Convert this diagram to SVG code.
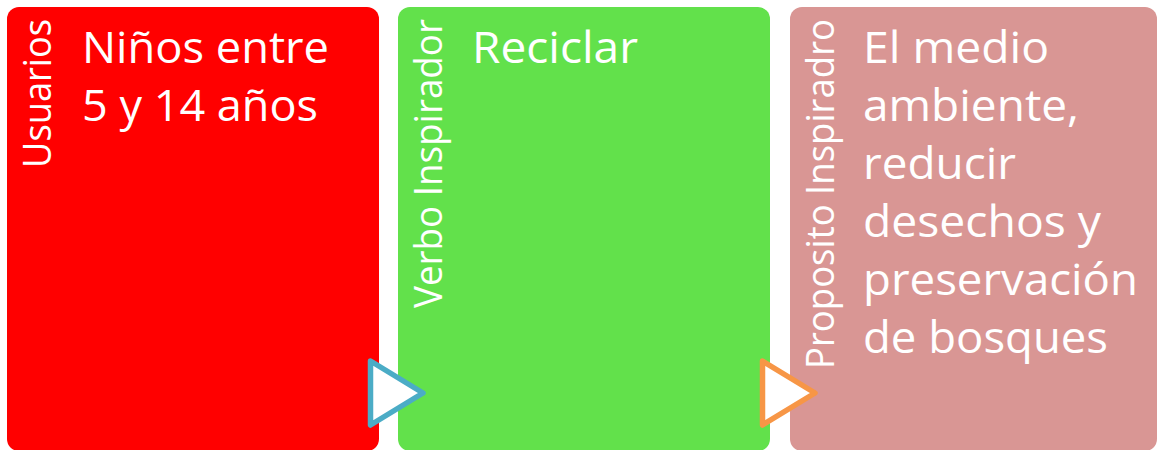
<svg xmlns="http://www.w3.org/2000/svg" width="1157" height="450" viewBox="0 0 1157 450">
<style>
.t{font-family:"Open Sans","DejaVu Sans",sans-serif;fill:#FFFFFF;font-size:43px}
.v{font-family:"Open Sans","DejaVu Sans",sans-serif;fill:#FFFFFF;font-size:38px}
.arr{fill:#FFFFFF;stroke-width:5.5;stroke-linejoin:round}
</style>
<rect width="1157" height="450" fill="#FFFFFF"/>
<g id="node-usuarios">
<rect x="7" y="7" width="372" height="444" rx="12" fill="#FF0000"/>
<text class="v" transform="translate(51,168) rotate(-90)" textLength="149" lengthAdjust="spacingAndGlyphs">Usuarios</text>
<text class="t" x="82" y="63" textLength="247" lengthAdjust="spacingAndGlyphs">Niños entre</text>
<text class="t" x="82" y="121" textLength="236" lengthAdjust="spacingAndGlyphs">5 y 14 años</text>
</g>
<g id="node-verbo">
<rect x="398" y="7" width="372" height="444" rx="12" fill="#62E14B"/>
<text class="v" transform="translate(442,308) rotate(-90)" textLength="289" lengthAdjust="spacingAndGlyphs">Verbo Inspirador</text>
<text class="t" x="472" y="63" textLength="166" lengthAdjust="spacingAndGlyphs">Reciclar</text>
</g>
<g id="node-proposito">
<rect x="790" y="7" width="367" height="444" rx="12" fill="#D99694"/>
<text class="v" transform="translate(834,369) rotate(-90)" textLength="350" lengthAdjust="spacingAndGlyphs">Proposito Inspiradro</text>
<text class="t" x="863" y="63" textLength="186" lengthAdjust="spacingAndGlyphs">El medio</text>
<text class="t" x="863" y="121" textLength="216" lengthAdjust="spacingAndGlyphs">ambiente,</text>
<text class="t" x="863" y="179" textLength="153" lengthAdjust="spacingAndGlyphs">reducir</text>
<text class="t" x="863" y="237" textLength="238" lengthAdjust="spacingAndGlyphs">desechos y</text>
<text class="t" x="863" y="295" textLength="275" lengthAdjust="spacingAndGlyphs">preservación</text>
<text class="t" x="863" y="353" textLength="245" lengthAdjust="spacingAndGlyphs">de bosques</text>
</g>
<g id="connectors">
<polygon class="arr" points="370.5,361 423,393 370.5,425" stroke="#4BACC6"/>
<polygon class="arr" points="762.5,361 815,393 762.5,425" stroke="#F79646"/>
</g>
</svg>
